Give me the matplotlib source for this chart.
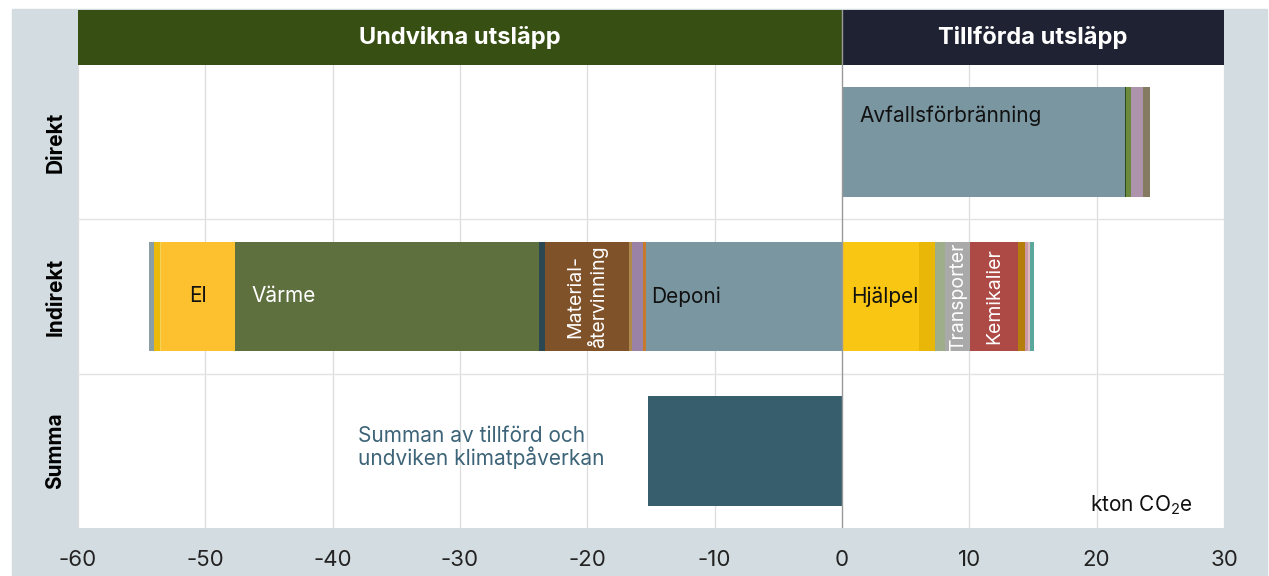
import matplotlib
matplotlib.use("Agg")
import matplotlib.pyplot as plt
from matplotlib.patches import Rectangle

plt.rcParams['font.family'] = ['Inter', 'DejaVu Sans']
plt.rcParams['mathtext.fontset'] = 'custom'
plt.rcParams['mathtext.rm'] = 'Inter'
plt.rcParams['mathtext.it'] = 'Inter'

# data (kton CO2e)
rows = ["Summa", "Indirekt", "Direkt"]
headers = ["Undvikna utsläpp", "Tillförda utsläpp"]

direkt_vals = [22.2, 0.08, 0.4, 0.95, 0.55]
direkt_names = ["Avfallsförbränning", "", "", "", ""]
direkt_colors = ["#7a96a1", "#2f4a1e", "#6c8a3e", "#ae93ad", "#857a62"]

# avoided emissions, listed from 0 outwards
neg_vals = [15.4, 0.2, 0.9, 0.2, 6.6, 0.47, 23.9, 5.8, 0.08, 0.45, 0.39]
neg_names = ["Deponi", "", "", "", "Material-\nåtervinning", "", "Värme", "El", "", "", ""]
neg_colors = ["#7a96a1", "#c87a2c", "#9a82a6", "#b08a4a", "#80522a", "#2a4752",
              "#5f703f", "#fdc02f", "#f3d35a", "#ebb90a", "#8a9ea5"]

pos_vals = [6.05, 1.26, 0.81, 1.94, 3.77, 0.57, 0.2, 0.15, 0.33]
pos_names = ["Hjälpel", "", "", "Transporter", "Kemikalier", "", "", "", ""]
pos_colors = ["#f9c614", "#e9b707", "#9fae8a", "#a9a9a9", "#ad4a45",
              "#b57d0c", "#c99aa5", "#e0b8c0", "#5aa89b"]

summa_val = -15.2
summa_color = "#365e6c"

W, H = 1269, 576
fig = plt.figure(figsize=(W / 100, H / 100), dpi=100)
fig.patches.append(Rectangle((12 / W, 0), (1267 - 12) / W, (H - 9) / H,
                             transform=fig.transFigure, color="#d3dce0", zorder=-10))

ax = fig.add_axes([78 / W, (H - 528) / H, (1224 - 78) / W, (528 - 65) / H])
hax = fig.add_axes([78 / W, (H - 65) / H, (1224 - 78) / W, (65 - 10) / H])

bh = 0.71
label_kw = dict(fontsize=15, va="center")
rot_kw = dict(color="white", ha="center", va="center", rotation=90, fontsize=14)

# Direkt
left = 0
for v, n, c in zip(direkt_vals, direkt_names, direkt_colors):
    ax.barh(2, v, left=left, height=bh, color=c, zorder=3)
    if n:
        ax.text(left + 1.4, 2.17, n, color="#111111", ha="left", **label_kw)
    left += v

# Indirekt, avoided
right = 0
for v, n, c in zip(neg_vals, neg_names, neg_colors):
    ax.barh(1, -v, left=right, height=bh, color=c, zorder=3)
    start = right - v
    if n == "Deponi":
        ax.text(start + 0.4, 1, n, color="#111111", ha="left", **label_kw)
    elif n == "Värme":
        ax.text(start + 1.3, 1, n, color="white", ha="left", **label_kw)
    elif n == "El":
        ax.text(start + v / 2, 1, n, color="#111111", ha="center", **label_kw)
    elif n:
        ax.text(start + v / 2, 1, n, linespacing=1.15, **rot_kw)
    right = start

# Indirekt, added
left = 0
for v, n, c in zip(pos_vals, pos_names, pos_colors):
    ax.barh(1, v, left=left, height=bh, color=c, zorder=3)
    if n == "Hjälpel":
        ax.text(left + 0.7, 1, n, color="#111111", ha="left", **label_kw)
    elif n:
        ax.text(left + v / 2, 1, n, **rot_kw)
    left += v

# Summa
ax.barh(0, summa_val, height=bh, color=summa_color, zorder=3)
ax.text(-38.0, 0.02, "Summan av tillförd och\nundviken klimatpåverkan",
        color="#3d6478", fontsize=15, ha="left", va="center", linespacing=1.0)
ax.text(0.973, 0.05, "kton CO$_2$e", transform=ax.transAxes, ha="right",
        va="center", fontsize=15, color="#111111")

ax.set_xlim(-60, 30)
ax.set_ylim(-0.5, 2.5)
ax.set_xticks(range(-60, 31, 10))
ax.set_xticklabels([str(t) for t in range(-60, 31, 10)])
ax.set_yticks(range(len(rows)))
ax.set_yticklabels(rows, rotation=90, fontweight="bold", fontsize=15, va="center")
ax.tick_params(axis="x", length=0, pad=16, labelsize=16, labelcolor="#222222")
ax.tick_params(axis="y", length=0, pad=9)
for x in range(-60, 31, 10):
    if x != 0:
        ax.axvline(x, color="#dddddd", lw=0.9, zorder=1)
ax.axvline(0, color="#999999", lw=1, zorder=4)
for y in (0.5, 1.5):
    ax.axhline(y, color="#e3e3e3", lw=1, zorder=1)
for s in ax.spines.values():
    s.set_visible(False)

# header band
hcolors = ["#374f12", "#1f2233"]
hax.barh(0, 60, left=-60, height=1, color=hcolors[0])
hax.barh(0, 30, left=0, height=1, color=hcolors[1])
hax.text(-30, 0, headers[0], color="white", fontsize=17, fontweight="bold",
         ha="center", va="center")
hax.text(15, 0, headers[1], color="white", fontsize=17, fontweight="bold",
         ha="center", va="center")
hax.set_xlim(-60, 30)
hax.set_ylim(-0.5, 0.5)
hax.axvline(0, color="#999999", lw=1)
hax.axis("off")

fig.savefig("out.png", dpi=100, facecolor="white")
